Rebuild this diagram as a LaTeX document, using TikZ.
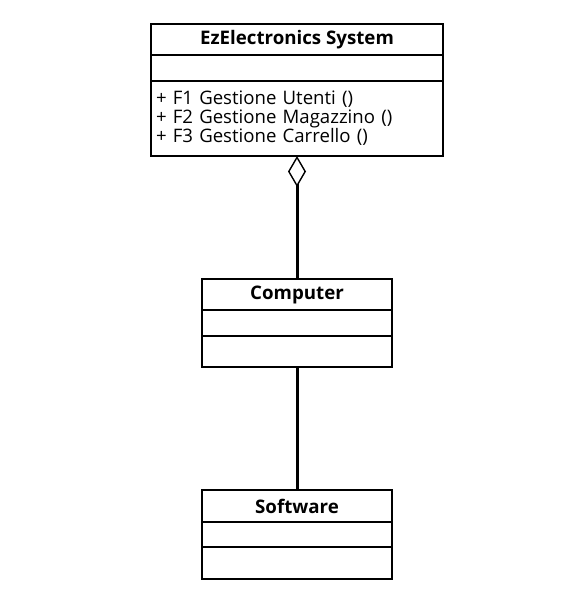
\documentclass[tikz,border=0pt]{standalone}
\usepackage{fontspec}
\setmainfont{Open Sans}
\usetikzlibrary{positioning, arrows.meta}

\begin{document}
\begin{tikzpicture}[x=1pt, y=-1pt, node distance=0pt,
  every node/.style={draw, rectangle, line width=1.2pt, inner sep=0pt, outer sep=0pt, font=\fontsize{18.6}{18.5}\selectfont},
  head/.style={minimum height=31pt, line width=1.8pt, font=\fontsize{18.7}{18.5}\selectfont\bfseries},
  part/.style={minimum height=26pt}]
  \useasboundingbox (0,0) rectangle (582,600);

  % system class
  \node (sys) [head, minimum width=292pt, anchor=north] at (297,24) {EzElectronics System};
  \node (sysa) [part, minimum width=292pt, below=of sys] {};
  \node (sysm) [part, minimum width=292pt, minimum height=75pt, text width=282pt, align=left, below=of sysa]
    {+ F1 Gestione Utenti ()\\+ F2 Gestione Magazzino ()\\+ F3 Gestione Carrello ()};
  \draw[line width=1.8pt] (sys.north west) rectangle (sysm.south east);

  % computer class
  \node (comp) [head, minimum width=190pt, anchor=north] at (297,279) {Computer};
  \node (compa) [part, minimum width=190pt, below=of comp] {};
  \node (compo) [part, minimum width=190pt, minimum height=31pt, below=of compa] {};
  \draw[line width=1.8pt] (comp.north west) rectangle (compo.south east);

  % software class
  \node (soft) [head, minimum width=190pt, minimum height=32pt, anchor=north] at (297,490) {Software};
  \node (softa) [part, minimum width=190pt, minimum height=25pt, below=of soft] {};
  \node (softo) [part, minimum width=190pt, minimum height=32pt, below=of softa] {};
  \draw[line width=1.8pt] (soft.north west) rectangle (softo.south east);

  \draw[line width=3pt, {Diamond[open, length=31pt, width=18pt, line width=1.4pt]}-] (sysm.south) -- (comp.north);
  \draw[line width=3pt] (compo.south) -- (soft.north);
\end{tikzpicture}
\end{document}
